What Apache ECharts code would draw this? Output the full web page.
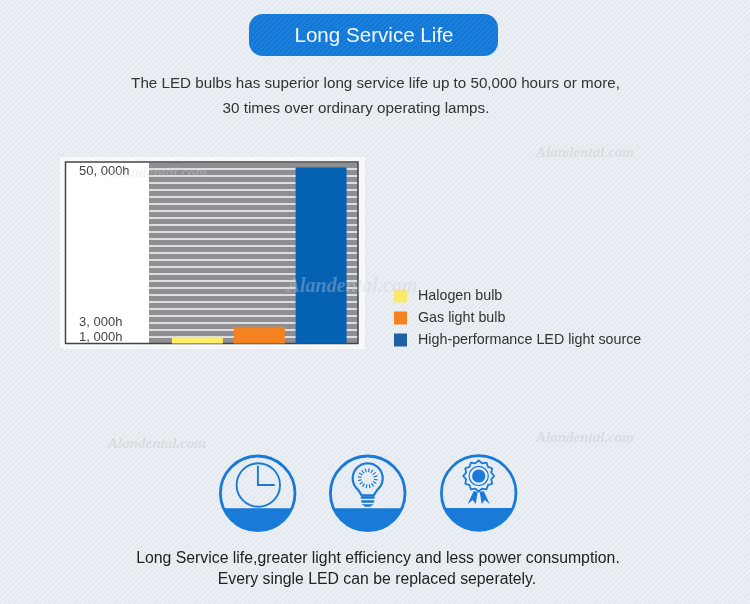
<!DOCTYPE html>
<html><head><meta charset="utf-8">
<style>html,body{margin:0;padding:0;background:#e9eff3}#c{width:750px;height:604px}</style>
<script src="https://cdn.jsdelivr.net/npm/echarts@6/dist/echarts.min.js"></script>
</head><body><div id="c"></div>
<script>
const lamps = ['Halogen bulb', 'Gas light bulb', 'High-performance LED light source'];
const hours = [1000, 3000, 50000];
const barColors = ['#ffee66', '#f58220', '#0561b2'];
const legendColors = ['#fbe96e', '#f58220', '#1f5fa6'];
const tickValues = [1000, 3000, 50000];
const tickLabels = {1000: '1, 000h', 3000: '3, 000h', 50000: '50, 000h'};
const heading = 'Long Service Life';
const intro = ['The LED bulbs has superior long service life up to 50,000 hours or more,', '30 times over ordinary operating lamps.'];
const outro = ['Long Service life,greater light efficiency and less power consumption.', 'Every single LED can be replaced seperately.'];
const FONT = '"Liberation Sans", Arial, sans-serif';
const BLUE = '#1a7ad8';

function hatch(bg, line, size) {
  const s = size || 4, c = document.createElement('canvas');
  c.width = s; c.height = s;
  const g = c.getContext('2d');
  g.fillStyle = bg; g.fillRect(0, 0, s, s);
  g.strokeStyle = line; g.lineWidth = 1;
  g.beginPath();
  g.moveTo(-1, 1); g.lineTo(1, -1);
  g.moveTo(-1, s + 1); g.lineTo(s + 1, -1);
  g.moveTo(s - 1, s + 1); g.lineTo(s + 1, s - 1);
  g.stroke();
  return c;
}
function stripes() {
  const c = document.createElement('canvas');
  c.width = 4; c.height = 7;
  const g = c.getContext('2d');
  g.fillStyle = '#8f8f93'; g.fillRect(0, 0, 4, 7);
  g.fillStyle = '#dedee0'; g.fillRect(0, 0, 4, 2);
  return c;
}
const stroke = {stroke: BLUE, fill: 'none', lineWidth: 1.9};

function shell(cx, cy, kids) {
  const r = 37.3, cut = 15, start = Math.asin(cut / r), seg = [];
  for (let i = 0; i <= 40; i++) {
    const a = start + (Math.PI - 2 * start) * i / 40;
    seg.push([Math.cos(a) * r, Math.sin(a) * r]);
  }
  return {type: 'group', x: cx, y: cy, silent: true, z: 3, children: [
    {type: 'circle', shape: {cx: 0, cy: 0, r}, style: {fill: 'none', stroke: BLUE, lineWidth: 2.8}},
    {type: 'polygon', shape: {points: seg}, style: {fill: BLUE}}
  ].concat(kids)};
}
const clock = [
  {type: 'circle', shape: {cx: 0.6, cy: -8.3, r: 21.7}, style: stroke},
  {type: 'polyline', shape: {points: [[0.2, -27.5], [0.2, -8.3], [17, -8.3]]}, style: stroke}
];
const rays = [];
for (let i = 0; i < 16; i++) {
  const a = i * Math.PI / 8 + 0.15, r1 = 6.2, r2 = 10;
  rays.push({type: 'line', shape: {x1: Math.cos(a) * r1, y1: -15 + Math.sin(a) * r1, x2: Math.cos(a) * r2, y2: -15 + Math.sin(a) * r2}, style: {stroke: BLUE, lineWidth: 1.2}});
}
const bulbPts = [];
for (let i = 0; i <= 30; i++) {
  const a = Math.PI * 0.72 + (Math.PI * 1.56) * i / 30;
  bulbPts.push([Math.cos(a) * 15, -15 + Math.sin(a) * 15]);
}
bulbPts.push([6, 2], [-6, 2]);
const bulb = [
  {type: 'polygon', shape: {points: bulbPts}, style: {fill: 'none', stroke: BLUE, lineWidth: 2.2, lineJoin: 'round'}},
  {type: 'rect', shape: {x: -7, y: 3, width: 14, height: 2.5, r: 1}, style: {fill: BLUE}},
  {type: 'rect', shape: {x: -6.5, y: 7, width: 13, height: 2.5, r: 1}, style: {fill: BLUE}},
  {type: 'polygon', shape: {points: [[-6, 11], [6, 11], [2.5, 13.5], [-2.5, 13.5]]}, style: {fill: BLUE}}
].concat(rays);
const gearPts = [];
for (let i = 0; i < 24; i++) {
  const a = i * Math.PI / 12, r = i % 2 ? 13 : 15.5;
  gearPts.push([Math.cos(a) * r, -17 + Math.sin(a) * r]);
}
const medal = [
  {type: 'polygon', shape: {points: gearPts}, style: {fill: 'none', stroke: BLUE, lineWidth: 1.8, lineJoin: 'round'}},
  {type: 'circle', shape: {cx: 0, cy: -17, r: 9.6}, style: {fill: 'none', stroke: BLUE, lineWidth: 1.2}},
  {type: 'circle', shape: {cx: 0, cy: -17, r: 6.6}, style: {fill: BLUE}},
  {type: 'polygon', shape: {points: [[-5, -2], [-1, -1], [-3, 11], [-6, 7], [-11, 11]]}, style: {fill: BLUE}},
  {type: 'polygon', shape: {points: [[5, -2], [1, -1], [3, 11], [6, 7], [11, 11]]}, style: {fill: BLUE}}
];
function text(s, x, y, size, fill) {
  return {type: 'text', x, y, silent: true, z: 4, style: {text: s, font: `${size}px ${FONT}`, fill, textAlign: 'center', textVerticalAlign: 'middle'}};
}
function mark(x, y, size, op) {
  return {type: 'text', x, y, silent: true, z: 5, style: {text: 'Alandental.com', font: `italic bold ${size}px "Liberation Serif", serif`, fill: `rgba(205,210,214,${op})`, textAlign: 'center', textVerticalAlign: 'middle'}};
}

const chart = echarts.init(document.getElementById('c'), null, {renderer: 'canvas'});
chart.setOption({
  animation: false,
  backgroundColor: {image: hatch('#e4eaef', '#f3f6f8', 5), repeat: 'repeat'},
  grid: {left: 166.5, right: 398, top: 162, bottom: 260.5, containLabel: false},
  legend: {
    orient: 'vertical', left: 389, top: 282, itemWidth: 13, itemHeight: 13, itemGap: 4,
    icon: 'rect', selectedMode: false,
    textStyle: {fontFamily: FONT, fontSize: 14.3, color: '#333', padding: [0, 0, 0, 6], lineHeight: 18},
    data: lamps.map((n, i) => ({name: n, itemStyle: {color: legendColors[i]}}))
  },
  xAxis: {type: 'category', data: lamps, axisLine: {show: false}, axisTick: {show: false}, axisLabel: {show: false}},
  yAxis: {
    type: 'value', min: 0, max: 51000,
    breaks: [{start: 4000, end: 45000, gap: 22500}],
    breakArea: {show: false},
    splitLine: {show: false}, axisLine: {show: false}, axisTick: {show: false},
    axisLabel: {
      customValues: tickValues, align: 'left', margin: 87.5,
      fontFamily: FONT, fontSize: 13, color: '#444',
      formatter: v => {
        const k = v === 1000 ? 'a' : v === 3000 ? 'b' : 'c';
        return `{${k}|${tickLabels[v]}}`;
      },
      rich: {
        a: {fontFamily: FONT, fontSize: 13, color: '#444', padding: [0, 0, 0, 0]},
        b: {fontFamily: FONT, fontSize: 13, color: '#444', padding: [0, 0, 8, 0]},
        c: {fontFamily: FONT, fontSize: 13, color: '#444', padding: [8, 0, 0, 0]}
      }
    }
  },
  series: lamps.map((n, i) => ({
    name: n, type: 'bar', stack: 'all', barWidth: 51, z: 3,
    itemStyle: {color: barColors[i]},
    data: lamps.map((_, j) => j === i ? hours[i] : null)
  })),
  graphic: {elements: [
    {type: 'rect', shape: {x: 60, y: 157, width: 305, height: 192}, style: {fill: '#f6f8f9'}, silent: true, z: 0},
    {type: 'rect', shape: {x: 65.5, y: 162, width: 83.5, height: 181.5}, style: {fill: '#fff'}, silent: true, z: 0},
    {type: 'rect', shape: {x: 149, y: 162, width: 209, height: 181.5}, style: {fill: {image: stripes(), repeat: 'repeat'}}, silent: true, z: 0},
    {type: 'rect', shape: {x: 65.5, y: 162, width: 292.5, height: 181.5}, style: {fill: 'none', stroke: '#444', lineWidth: 1.5}, silent: true, z: 1},
    {type: 'rect', shape: {x: 249, y: 14, width: 249, height: 42, r: 14}, style: {fill: {image: hatch('#1379d8', '#2a86dc', 5), repeat: 'repeat'}}, silent: true, z: 2},
    text(heading, 374, 36, 20.6, '#f2f8fe'),
    text(intro[0], 375.5, 84, 15.2, '#333'),
    text(intro[1], 356, 109, 15.2, '#333'),
    text(outro[0], 378, 559, 15.8, '#222'),
    text(outro[1], 377, 580, 15.8, '#222'),
    shell(257.7, 493.3, clock),
    shell(367.7, 493.3, bulb),
    shell(478.7, 493, medal),
    mark(585, 153, 15, 0.6), mark(158, 173, 15, 0.3), mark(352, 287, 20, 0.35),
    mark(157, 444, 15, 0.6), mark(585, 438, 15, 0.6)
  ]}
});
</script></body></html>
